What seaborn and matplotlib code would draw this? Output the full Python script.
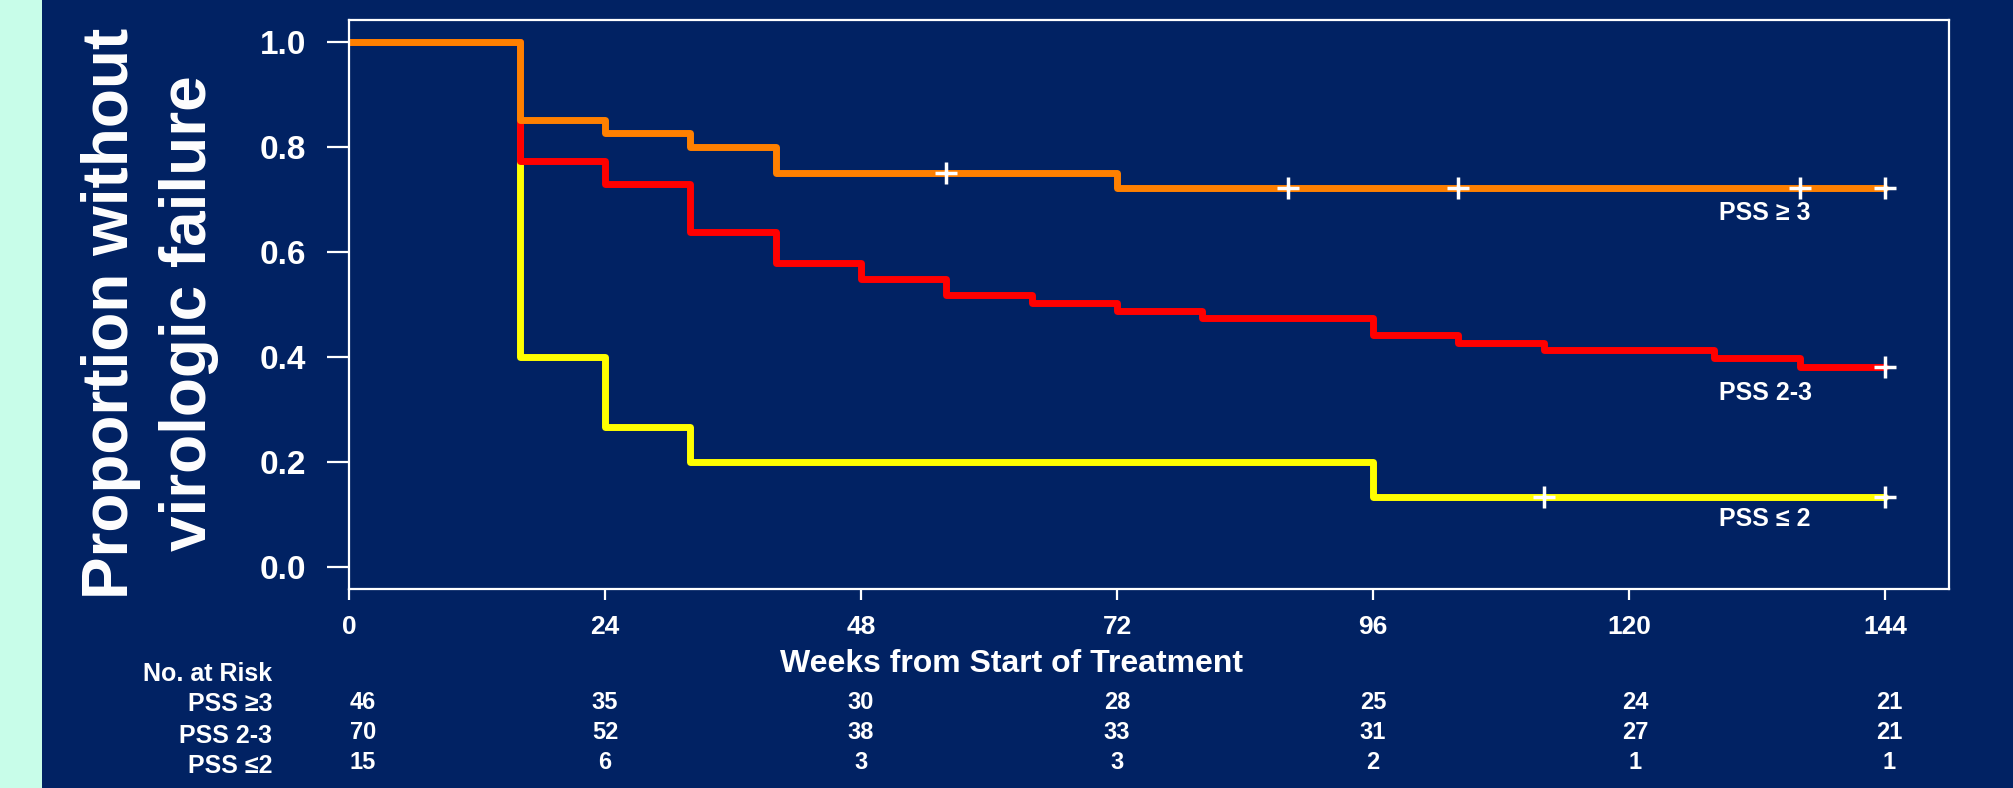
import numpy as np
import pandas as pd
import matplotlib
matplotlib.use("Agg")
import matplotlib.pyplot as plt
from matplotlib.patches import Rectangle
from matplotlib.transforms import blended_transform_factory
import seaborn as sns

# ---- Kaplan-Meier estimates (week of step, proportion after step) ----
groups = ["PSS ≥ 3", "PSS 2-3", "PSS ≤ 2"]

weeks_hi = [0, 16, 24, 32, 40, 72, 144]
surv_hi = [1.0, 0.851, 0.826, 0.800, 0.749, 0.722, 0.722]

weeks_mid = [0, 16, 24, 32, 40, 48, 56, 64, 72, 80, 96, 104, 112, 128, 136, 144]
surv_mid = [1.0, 0.773, 0.729, 0.638, 0.579, 0.549, 0.518, 0.503, 0.488,
            0.473, 0.442, 0.427, 0.412, 0.397, 0.380, 0.380]

weeks_lo = [0, 16, 24, 32, 96, 144]
surv_lo = [1.0, 0.400, 0.267, 0.200, 0.133, 0.133]

# censoring times
censor_hi = [56, 88, 104, 136, 144]
censor_mid = [144]
censor_lo = [112, 144]

# number at risk table
risk_weeks = [0, 24, 48, 72, 96, 120, 144]
risk_hi = [46, 35, 30, 28, 25, 24, 21]
risk_mid = [70, 52, 38, 33, 31, 27, 21]
risk_lo = [15, 6, 3, 3, 2, 1, 1]
risk_row_labels = ["PSS ≥3", "PSS 2-3", "PSS ≤2"]

y_ticks = [0.0, 0.2, 0.4, 0.6, 0.8, 1.0]

# ---- styling ----
NAVY = "#012263"
MINT = "#c8fde9"
palette = {"PSS ≥ 3": "#ff8000", "PSS 2-3": "#ff0000", "PSS ≤ 2": "#ffff00"}

sns.set_theme(style="white")
plt.rcParams["font.family"] = ["Liberation Sans", "DejaVu Sans"]
plt.rcParams["font.weight"] = "bold"
plt.rcParams["text.color"] = "white"

curves = {
    "PSS ≥ 3": (weeks_hi, surv_hi, censor_hi),
    "PSS 2-3": (weeks_mid, surv_mid, censor_mid),
    "PSS ≤ 2": (weeks_lo, surv_lo, censor_lo),
}


def surv_at(t, weeks, surv):
    idx = np.searchsorted(weeks, t, side="right") - 1
    return surv[idx]


km = pd.concat(
    [pd.DataFrame({"week": w, "surv": s, "group": g}) for g, (w, s, _) in curves.items()],
    ignore_index=True,
)
cens = pd.concat(
    [pd.DataFrame({"week": c, "surv": [surv_at(t, w, s) for t in c], "group": g})
     for g, (w, s, c) in curves.items()],
    ignore_index=True,
)

fig = plt.figure(figsize=(20.13, 7.88), dpi=100, facecolor=NAVY)
fig.add_artist(Rectangle((0, 0), 42 / 2013, 1, transform=fig.transFigure,
                         facecolor=MINT, edgecolor="none", zorder=0))

ax = fig.add_axes([0.1734, 0.2525, 0.7948, 0.7221])
ax.set_facecolor(NAVY)

draw_order = ["PSS ≤ 2", "PSS 2-3", "PSS ≥ 3"]
sns.lineplot(data=km, x="week", y="surv", hue="group", hue_order=draw_order,
             palette=palette, drawstyle="steps-post", linewidth=5,
             estimator=None, sort=False, legend=False, ax=ax)
sns.scatterplot(data=cens, x="week", y="surv", marker="+", s=230, color="white",
                linewidth=2.5, legend=False, ax=ax, zorder=5)

ax.set_xlim(0, 150)
ax.set_ylim(-0.042, 1.041)
ax.set_xticks(risk_weeks)
ax.set_xticklabels([str(w) for w in risk_weeks])
ax.set_yticks(y_ticks)
ax.set_yticklabels([f"{v:.1f}" for v in y_ticks])

for side in ["left", "right", "top", "bottom"]:
    ax.spines[side].set_visible(True)
    ax.spines[side].set_color("white")
    ax.spines[side].set_linewidth(1.6)

ax.tick_params(axis="y", direction="out", length=16, width=1.6, pad=15,
               labelsize=24, colors="white", left=True)
ax.tick_params(axis="x", direction="out", length=8, width=1.6, pad=11,
               labelsize=19, colors="white", bottom=True)
for lab in ax.get_xticklabels() + ax.get_yticklabels():
    lab.set_fontweight("bold")

ax.set_ylabel("")
ax.set_xlabel("Weeks from Start of Treatment", fontsize=23, fontweight="bold", color="white")
ax.xaxis.set_label_coords(0.414, -0.1325)
ax.xaxis.label.set_va("center")

fig.text(0.0745, 0.602, "Proportion without\nvirologic failure", rotation=90,
         fontsize=46, fontweight="bold", color="white", ha="center", va="center",
         multialignment="center", linespacing=1.4)

# curve labels
label_y = {"PSS ≥ 3": 0.673, "PSS 2-3": 0.332, "PSS ≤ 2": 0.091}
for g in groups:
    ax.text(128.4, label_y[g], g, fontsize=18, fontweight="bold", color="white",
            ha="left", va="center")

# number-at-risk table
trans = blended_transform_factory(ax.transData, fig.transFigure)
fig.text(272 / 2013, 0.1447, "No. at Risk", fontsize=18, fontweight="bold",
         color="white", ha="right", va="center")
row_label_y = [0.1066, 0.0660, 0.0279]
row_num_y = [0.1085, 0.0698, 0.0324]
col_nudge = [1.3, 0, 0, 0, 0, 0.6, 0.4]
for lab, yl, yn, counts in zip(risk_row_labels, row_label_y, row_num_y,
                               [risk_hi, risk_mid, risk_lo]):
    fig.text(272 / 2013, yl, lab, fontsize=18, fontweight="bold", color="white",
             ha="right", va="center")
    for w, n, dx in zip(risk_weeks, counts, col_nudge):
        ax.text(w + dx, yn, str(n), transform=trans, fontsize=17, fontweight="bold",
                color="white", ha="center", va="center", clip_on=False)

fig.savefig("out.png", dpi=100, facecolor=NAVY)
